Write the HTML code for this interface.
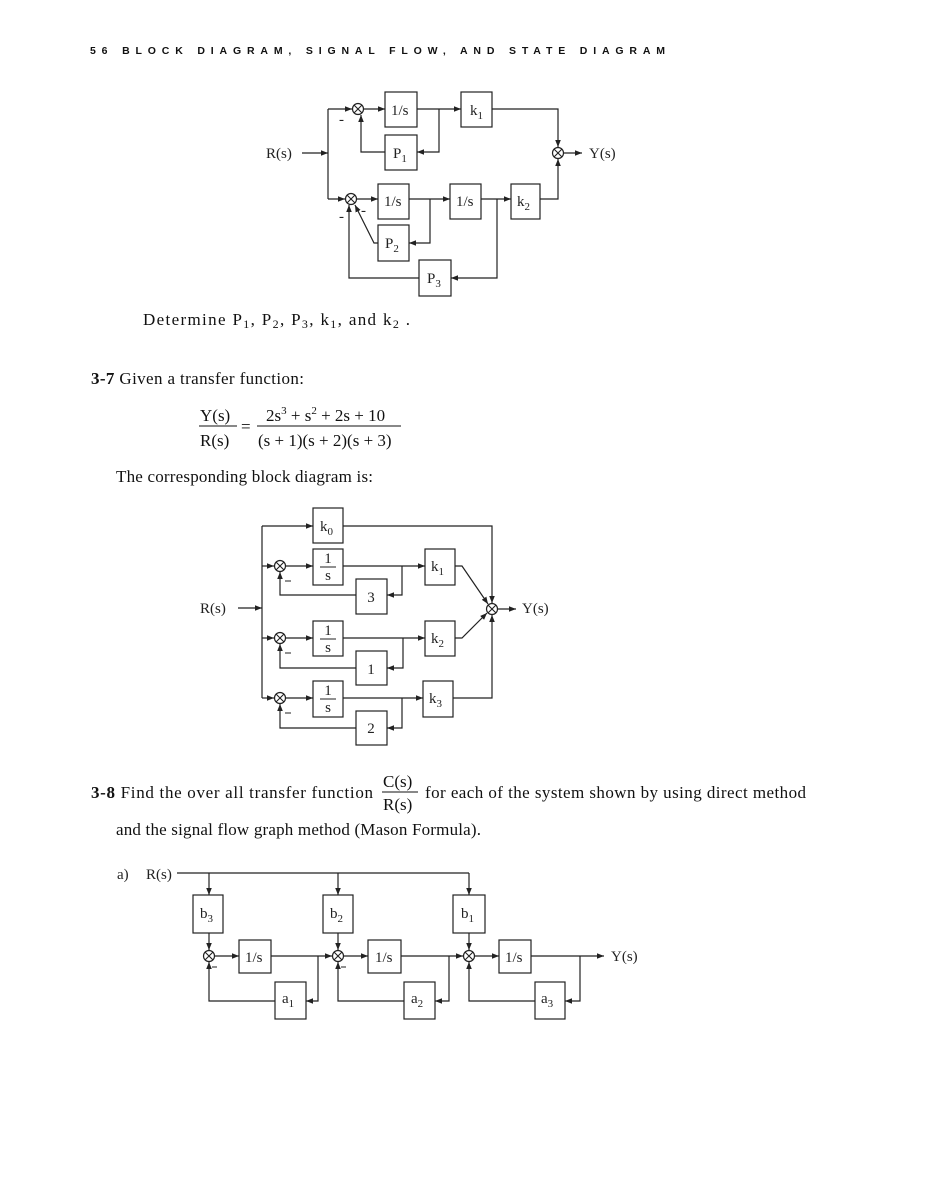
<!DOCTYPE html>
<html><head><meta charset="utf-8"><style>
html,body{margin:0;padding:0;background:#fff;}
svg{display:block;}
.d{font-family:"Liberation Serif",serif;font-size:15px;fill:#222;}
.sub{font-size:11px;}
.t{font-family:"Liberation Serif",serif;font-size:17px;fill:#111;}
.b{font-weight:bold;}
.h{font-family:"Liberation Sans",sans-serif;font-size:10.5px;font-weight:bold;fill:#111;}
</style></head><body>
<svg width="927" height="1200" viewBox="0 0 927 1200" xmlns="http://www.w3.org/2000/svg">
<defs>
<marker id="a" viewBox="0 0 10 10" refX="10" refY="5" markerWidth="7" markerHeight="7" orient="auto" markerUnits="userSpaceOnUse"><path d="M0,1 L10,5 L0,9 z" fill="#222"/></marker>
<g id="sum"><circle r="5.5" fill="#fff" stroke="#222" stroke-width="1.2"/><path d="M-3.9,-3.9 L3.9,3.9 M-3.9,3.9 L3.9,-3.9" stroke="#222" stroke-width="1.1"/></g>
</defs>
<text x="90" y="54" class="h" textLength="575" lengthAdjust="spacing">56  BLOCK DIAGRAM, SIGNAL FLOW, AND STATE DIAGRAM</text>

<g fill="none" stroke="#222" stroke-width="1.2">
<!-- Diagram 1 -->
<line x1="302" y1="153" x2="328" y2="153" marker-end="url(#a)"/>
<path d="M328,109 V199"/>
<line x1="328" y1="109" x2="352" y2="109" marker-end="url(#a)"/>
<rect x="385" y="92" width="32" height="35"/>
<line x1="364" y1="109" x2="385" y2="109" marker-end="url(#a)"/>
<line x1="417" y1="109" x2="461" y2="109" marker-end="url(#a)"/>
<rect x="461" y="92" width="31" height="35"/>
<path d="M492,109 H558 V147" marker-end="url(#a)"/>
<rect x="385" y="135" width="32" height="35"/>
<path d="M439,109 V152 H417" marker-end="url(#a)"/>
<path d="M385,152 H361 V115" marker-end="url(#a)"/>
<line x1="564" y1="153" x2="582" y2="153" marker-end="url(#a)"/>
<line x1="328" y1="199" x2="345" y2="199" marker-end="url(#a)"/>
<rect x="378" y="184" width="31" height="35"/>
<line x1="357" y1="199" x2="378" y2="199" marker-end="url(#a)"/>
<line x1="409" y1="199" x2="450" y2="199" marker-end="url(#a)"/>
<rect x="450" y="184" width="31" height="35"/>
<line x1="481" y1="199" x2="511" y2="199" marker-end="url(#a)"/>
<rect x="511" y="184" width="29" height="35"/>
<path d="M540,199 H558 V159" marker-end="url(#a)"/>
<rect x="378" y="225" width="31" height="36"/>
<path d="M430,199 V243 H409" marker-end="url(#a)"/>
<path d="M378,243 H374 L355,205" marker-end="url(#a)"/>
<rect x="419" y="260" width="32" height="36"/>
<path d="M497,199 V278 H451" marker-end="url(#a)"/>
<path d="M419,278 H349 V205" marker-end="url(#a)"/>

<!-- Diagram 2 -->
<line x1="238" y1="608" x2="262" y2="608" marker-end="url(#a)"/>
<path d="M262,526 V698"/>
<line x1="262" y1="526" x2="313" y2="526" marker-end="url(#a)"/>
<rect x="313" y="508" width="30" height="35"/>
<path d="M343,526 H492 V603" marker-end="url(#a)"/>
<line x1="262" y1="566" x2="274" y2="566" marker-end="url(#a)"/>
<rect x="313" y="549" width="30" height="36"/>
<line x1="286" y1="566" x2="313" y2="566" marker-end="url(#a)"/>
<line x1="343" y1="566" x2="425" y2="566" marker-end="url(#a)"/>
<rect x="425" y="549" width="30" height="36"/>
<path d="M455,566 H462 L488,604" marker-end="url(#a)"/>
<rect x="356" y="579" width="31" height="35"/>
<path d="M402,566 V595 H387" marker-end="url(#a)"/>
<path d="M356,595 H280 V572" marker-end="url(#a)"/>
<line x1="262" y1="638" x2="274" y2="638" marker-end="url(#a)"/>
<rect x="313" y="621" width="30" height="35"/>
<line x1="286" y1="638" x2="313" y2="638" marker-end="url(#a)"/>
<line x1="343" y1="638" x2="425" y2="638" marker-end="url(#a)"/>
<rect x="425" y="621" width="30" height="35"/>
<path d="M455,638 H462 L487,613" marker-end="url(#a)"/>
<rect x="356" y="651" width="31" height="34"/>
<path d="M403,638 V668 H387" marker-end="url(#a)"/>
<path d="M356,668 H280 V644" marker-end="url(#a)"/>
<line x1="262" y1="698" x2="274" y2="698" marker-end="url(#a)"/>
<rect x="313" y="681" width="30" height="36"/>
<line x1="286" y1="698" x2="313" y2="698" marker-end="url(#a)"/>
<line x1="343" y1="698" x2="423" y2="698" marker-end="url(#a)"/>
<rect x="423" y="681" width="30" height="36"/>
<path d="M453,698 H492 V615" marker-end="url(#a)"/>
<rect x="356" y="711" width="31" height="34"/>
<path d="M402,698 V728 H387" marker-end="url(#a)"/>
<path d="M356,728 H280 V704" marker-end="url(#a)"/>
<line x1="498" y1="609" x2="516" y2="609" marker-end="url(#a)"/>

<!-- Diagram 3 -->
<path d="M177,873 H469"/>
<line x1="209" y1="873" x2="209" y2="895" marker-end="url(#a)"/>
<line x1="338" y1="873" x2="338" y2="895" marker-end="url(#a)"/>
<line x1="469" y1="873" x2="469" y2="895" marker-end="url(#a)"/>
<rect x="193" y="895" width="30" height="38"/>
<rect x="323" y="895" width="30" height="38"/>
<rect x="453" y="895" width="32" height="38"/>
<line x1="209" y1="933" x2="209" y2="950" marker-end="url(#a)"/>
<line x1="338" y1="933" x2="338" y2="950" marker-end="url(#a)"/>
<line x1="469" y1="933" x2="469" y2="950" marker-end="url(#a)"/>
<rect x="239" y="940" width="32" height="33"/>
<rect x="368" y="940" width="33" height="33"/>
<rect x="499" y="940" width="32" height="33"/>
<line x1="215" y1="956" x2="239" y2="956" marker-end="url(#a)"/>
<line x1="344" y1="956" x2="368" y2="956" marker-end="url(#a)"/>
<line x1="475" y1="956" x2="499" y2="956" marker-end="url(#a)"/>
<line x1="271" y1="956" x2="332" y2="956" marker-end="url(#a)"/>
<line x1="401" y1="956" x2="463" y2="956" marker-end="url(#a)"/>
<line x1="531" y1="956" x2="604" y2="956" marker-end="url(#a)"/>
<rect x="275" y="982" width="31" height="37"/>
<rect x="404" y="982" width="31" height="37"/>
<rect x="535" y="982" width="30" height="37"/>
<path d="M318,956 V1001 H306" marker-end="url(#a)"/>
<path d="M449,956 V1001 H435" marker-end="url(#a)"/>
<path d="M580,956 V1001 H565" marker-end="url(#a)"/>
<path d="M275,1001 H209 V962" marker-end="url(#a)"/>
<path d="M404,1001 H338 V962" marker-end="url(#a)"/>
<path d="M535,1001 H469 V962" marker-end="url(#a)"/>
</g>

<use href="#sum" x="358" y="109"/><use href="#sum" x="558" y="153"/><use href="#sum" x="351" y="199"/>
<use href="#sum" x="492" y="609"/><use href="#sum" x="280" y="566"/><use href="#sum" x="280" y="638"/><use href="#sum" x="280" y="698"/>
<use href="#sum" x="209" y="956"/><use href="#sum" x="338" y="956"/><use href="#sum" x="469" y="956"/>

<!-- Diagram 1 labels -->
<text x="266" y="158" class="d">R(s)</text>
<text x="589" y="158" class="d">Y(s)</text>
<text x="391" y="115" class="d">1/s</text>
<text x="470" y="115" class="d">k<tspan class="sub" dy="4">1</tspan></text>
<text x="393" y="158" class="d">P<tspan class="sub" dy="4">1</tspan></text>
<text x="384" y="206" class="d">1/s</text>
<text x="456" y="206" class="d">1/s</text>
<text x="517" y="206" class="d">k<tspan class="sub" dy="4">2</tspan></text>
<text x="385" y="248" class="d">P<tspan class="sub" dy="4">2</tspan></text>
<text x="427" y="283" class="d">P<tspan class="sub" dy="4">3</tspan></text>
<text x="339" y="124" class="d" font-size="12">-</text>
<text x="339" y="221" class="d" font-size="12">-</text>
<text x="361" y="215" class="d" font-size="12">-</text>

<text x="143" y="325" class="t" textLength="267" lengthAdjust="spacing">Determine P<tspan font-size="12" dy="3">1</tspan><tspan dy="-3">, P</tspan><tspan font-size="12" dy="3">2</tspan><tspan dy="-3">, P</tspan><tspan font-size="12" dy="3">3</tspan><tspan dy="-3">, k</tspan><tspan font-size="12" dy="3">1</tspan><tspan dy="-3">, and k</tspan><tspan font-size="12" dy="3">2</tspan><tspan dy="-3"> .</tspan></text>

<text x="91" y="384" class="t" textLength="213" lengthAdjust="spacing"><tspan class="b">3-7</tspan>  Given a transfer function:</text>
<line x1="199" y1="426" x2="237" y2="426" stroke="#111"/>
<text x="200" y="421" class="t" font-size="16">Y(s)</text>
<text x="200" y="446" class="t" font-size="16">R(s)</text>
<text x="241" y="432" class="t" font-size="16">=</text>
<line x1="257" y1="426" x2="401" y2="426" stroke="#111"/>
<text x="266" y="421" class="t" font-size="16">2s<tspan font-size="11" dy="-7">3</tspan><tspan dy="7"> + s</tspan><tspan font-size="11" dy="-7">2</tspan><tspan dy="7"> + 2s + 10</tspan></text>
<text x="258" y="446" class="t" font-size="16">(s + 1)(s + 2)(s + 3)</text>
<text x="116" y="482" class="t" textLength="257" lengthAdjust="spacing">The corresponding block diagram is:</text>

<!-- Diagram 2 labels -->
<text x="200" y="613" class="d">R(s)</text>
<text x="522" y="613" class="d">Y(s)</text>
<text x="320" y="531" class="d">k<tspan class="sub" dy="4">0</tspan></text>
<text x="431" y="571" class="d">k<tspan class="sub" dy="4">1</tspan></text>
<text x="431" y="643" class="d">k<tspan class="sub" dy="4">2</tspan></text>
<text x="429" y="703" class="d">k<tspan class="sub" dy="4">3</tspan></text>
<g class="d" font-size="13" text-anchor="middle">
<text x="328" y="563">1</text><text x="328" y="580">s</text>
<text x="328" y="635">1</text><text x="328" y="652">s</text>
<text x="328" y="695">1</text><text x="328" y="712">s</text>
<text x="371" y="602">3</text><text x="371" y="674">1</text><text x="371" y="733">2</text>
</g>
<g stroke="#222"><line x1="320" y1="567" x2="336" y2="567"/><line x1="320" y1="639" x2="336" y2="639"/><line x1="320" y1="699" x2="336" y2="699"/>
<line x1="285" y1="581" x2="291" y2="581"/><line x1="285" y1="653" x2="291" y2="653"/><line x1="285" y1="713" x2="291" y2="713"/>
<line x1="212" y1="967" x2="217" y2="967"/><line x1="341" y1="967" x2="346" y2="967"/></g>

<text x="91" y="798" class="t" textLength="282" lengthAdjust="spacing"><tspan class="b">3-8</tspan>   Find the over all transfer function</text>
<text x="383" y="787" class="t" font-size="16">C(s)</text>
<line x1="382" y1="792" x2="418" y2="792" stroke="#111"/>
<text x="383" y="810" class="t" font-size="16">R(s)</text>
<text x="425" y="798" class="t" textLength="381" lengthAdjust="spacing">for each of the system shown by using direct method</text>
<text x="116" y="835" class="t" textLength="365" lengthAdjust="spacing">and the signal flow graph method (Mason Formula).</text>

<!-- Diagram 3 labels -->
<text x="117" y="879" class="d">a)</text>
<text x="146" y="879" class="d">R(s)</text>
<text x="611" y="961" class="d">Y(s)</text>
<text x="200" y="918" class="d">b<tspan class="sub" dy="4">3</tspan></text>
<text x="330" y="918" class="d">b<tspan class="sub" dy="4">2</tspan></text>
<text x="461" y="918" class="d">b<tspan class="sub" dy="4">1</tspan></text>
<text x="245" y="962" class="d">1/s</text>
<text x="375" y="962" class="d">1/s</text>
<text x="505" y="962" class="d">1/s</text>
<text x="282" y="1003" class="d">a<tspan class="sub" dy="4">1</tspan></text>
<text x="411" y="1003" class="d">a<tspan class="sub" dy="4">2</tspan></text>
<text x="541" y="1003" class="d">a<tspan class="sub" dy="4">3</tspan></text>
</svg>
</body></html>
